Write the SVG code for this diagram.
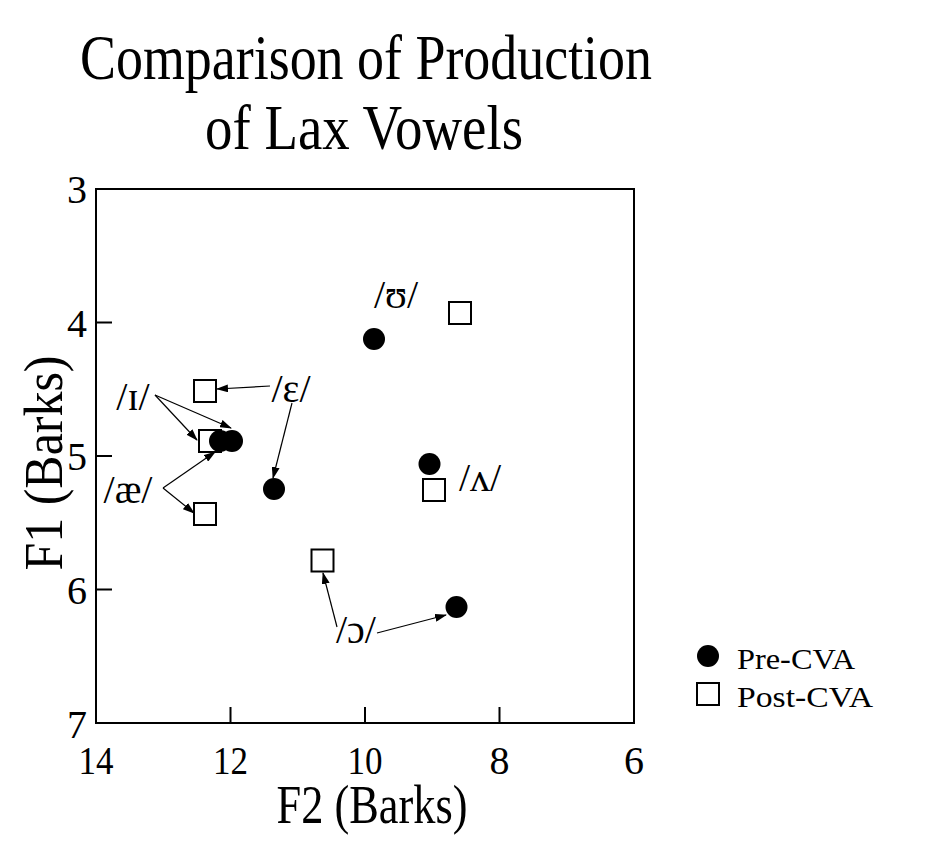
<svg xmlns="http://www.w3.org/2000/svg" width="931" height="848" viewBox="0 0 931 848">
<defs>
<marker id="ah" markerWidth="12" markerHeight="8" refX="11" refY="4" orient="auto" markerUnits="userSpaceOnUse">
<path d="M0,0 L12,4 L0,8 Z" fill="#000"/>
</marker>
</defs>
<style>
text{font-family:"Liberation Serif","DejaVu Serif",serif;fill:#000}
.title{font-size:64px}
.axlab{font-size:54px}
.tick{font-size:40px}
.lab{font-size:40px}
.leg{font-size:30px}
.pre{fill:#000}
.post{fill:#fff;stroke:#000;stroke-width:2}
.conn{stroke:#000;stroke-width:1.2;fill:none;marker-end:url(#ah)}
.ax{stroke:#000;stroke-width:2;fill:none}
</style>
<rect width="931" height="848" fill="#fff"/>
<g id="title">
<text class="title" x="366" y="79" text-anchor="middle" textLength="572" lengthAdjust="spacingAndGlyphs">Comparison of Production</text>
<text class="title" x="364" y="149" text-anchor="middle" textLength="318" lengthAdjust="spacingAndGlyphs">of Lax Vowels</text>
</g>
<g id="axes">
<rect class="ax" x="96" y="189" width="538" height="534"/>
<path class="ax" d="M96,322.5 h16 M96,456 h16 M96,589.5 h16 M230.5,723 v-16 M365,723 v-16 M499.5,723 v-16"/>
<text class="tick" x="87" y="203" text-anchor="end">3</text>
<text class="tick" x="87" y="337" text-anchor="end">4</text>
<text class="tick" x="87" y="470" text-anchor="end">5</text>
<text class="tick" x="87" y="604" text-anchor="end">6</text>
<text class="tick" x="87" y="738" text-anchor="end">7</text>
<text class="tick" x="96" y="774" text-anchor="middle" textLength="35" lengthAdjust="spacingAndGlyphs">14</text>
<text class="tick" x="230.5" y="774" text-anchor="middle" textLength="35" lengthAdjust="spacingAndGlyphs">12</text>
<text class="tick" x="365" y="774" text-anchor="middle" textLength="35" lengthAdjust="spacingAndGlyphs">10</text>
<text class="tick" x="499.5" y="774" text-anchor="middle">8</text>
<text class="tick" x="634" y="774" text-anchor="middle">6</text>
<text class="axlab" x="372" y="823" text-anchor="middle" textLength="191" lengthAdjust="spacingAndGlyphs">F2 (Barks)</text>
<text class="axlab" transform="translate(62,463) rotate(-90)" x="0" y="0" text-anchor="middle" textLength="215" lengthAdjust="spacingAndGlyphs">F1 (Barks)</text>
</g>
<g id="connectors">
<line class="conn" x1="155" y1="395" x2="197" y2="440"/>
<line class="conn" x1="155" y1="395" x2="231" y2="428"/>
<line class="conn" x1="270" y1="386" x2="217" y2="389"/>
<line class="conn" x1="292" y1="403" x2="273" y2="478"/>
<line class="conn" x1="163" y1="488" x2="215" y2="452"/>
<line class="conn" x1="163" y1="488" x2="194" y2="513"/>
<line class="conn" x1="337" y1="627" x2="323" y2="573"/>
<line class="conn" x1="377" y1="633" x2="446" y2="615"/>
</g>
<g id="node-u">
<circle class="pre" cx="374" cy="339" r="11"/>
<rect class="post" x="449" y="302" width="22" height="22"/>
<text class="lab" x="396" y="308" text-anchor="middle">/ʊ/</text>
</g>
<g id="node-i">
<rect class="post" x="199" y="430" width="22" height="22"/>
<circle class="pre" cx="220" cy="441" r="11"/>
<text class="lab" x="133" y="410" text-anchor="middle">/ɪ/</text>
</g>
<g id="node-ae">
<circle class="pre" cx="232" cy="441" r="11"/>
<rect class="post" x="194" y="503" width="22" height="22"/>
<text class="lab" x="128" y="503" text-anchor="middle">/æ/</text>
</g>
<g id="node-e">
<rect class="post" x="194" y="380" width="22" height="22"/>
<circle class="pre" cx="274" cy="489" r="11"/>
<text class="lab" x="291" y="402" text-anchor="middle">/ɛ/</text>
</g>
<g id="node-v">
<circle class="pre" cx="429.5" cy="464" r="11"/>
<rect class="post" x="423" y="479" width="22" height="22"/>
<text class="lab" x="480" y="491" text-anchor="middle">/ʌ/</text>
</g>
<g id="node-o">
<rect class="post" x="311.5" y="549.5" width="22" height="22"/>
<circle class="pre" cx="456.5" cy="607" r="11"/>
<text class="lab" x="356" y="643" text-anchor="middle">/ɔ/</text>
</g>
<g id="legend">
<circle class="pre" cx="708" cy="656" r="11"/>
<rect class="post" x="697" y="683" width="22" height="22"/>
<text class="leg" x="737" y="669" textLength="118" lengthAdjust="spacingAndGlyphs">Pre-CVA</text>
<text class="leg" x="737" y="707" textLength="136" lengthAdjust="spacingAndGlyphs">Post-CVA</text>
</g>
</svg>
